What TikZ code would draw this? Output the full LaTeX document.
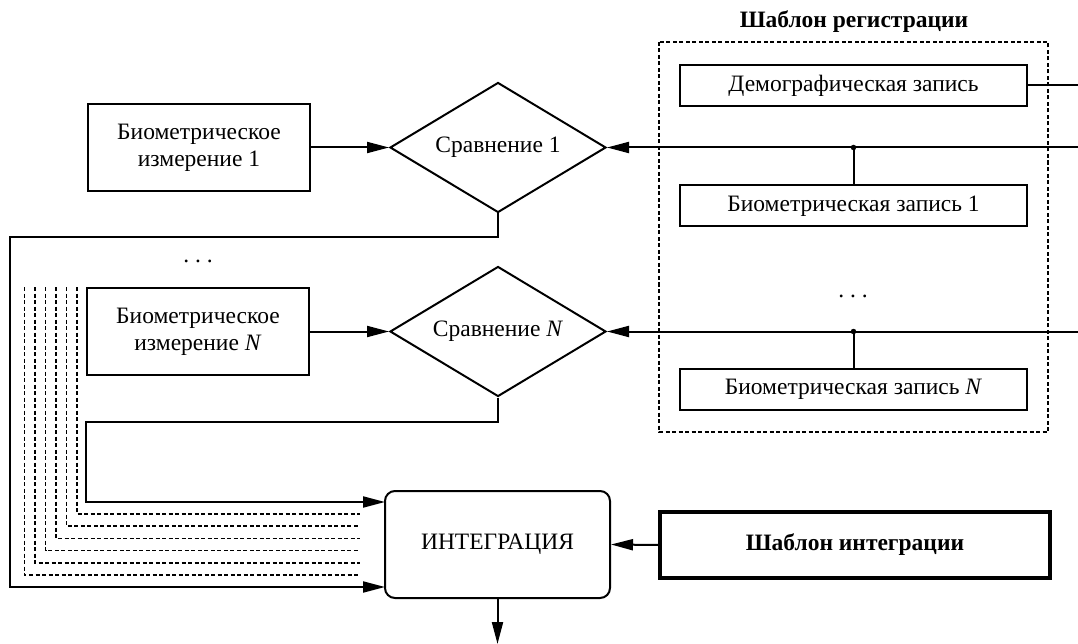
\documentclass[tikz,border=0pt]{standalone}
\usepackage{fontspec}
\setmainfont{Liberation Serif}
\usetikzlibrary{shapes.geometric,arrows.meta,calc}

\tikzset{
  blk/.style={draw, line width=2pt, align=center, inner sep=0pt},
  cmp/.style={draw, shape=diamond, line width=2pt, inner sep=0pt, aspect=1.66,
              minimum width=216pt, minimum height=130pt},
  rec/.style={blk, minimum width=347pt, minimum height=41pt},
  meas/.style={blk, minimum width=222pt, minimum height=87pt},
  link/.style={-{Triangle[length=22pt,width=11pt]}},
  tap/.style={dash pattern=on 4pt off 2.5pt, line width=1.6pt},
  jdot/.style={circle, fill, inner sep=0pt, minimum size=5.5pt},
}

\begin{document}
\begin{tikzpicture}[x=1pt, y=-1pt, line width=2pt, font=\fontsize{23.5}{27}\selectfont]
\useasboundingbox (0,0) rectangle (1078,644);

% enrolment template
\draw[tap] (659,42) rectangle (1048,432);
\node[font=\fontsize{23.5}{27}\selectfont\bfseries] (ttl) at (854,22) {Шаблон регистрации};
\node[rec] (dem) at (853.5,85.5) {Демографическая запись};
\node[rec] (b1) at (853.5,206) {Биометрическая запись 1};
\node (rdots) at (853,296) {.\ .\ .};
\node[rec] (bN) at (853.5,389) {Биометрическая запись \textit{N}};

% measurements and comparisons
\node[meas] (m1) at (199,147.5) {Биометрическое\\измерение 1};
\node (ldots) at (198,261) {.\ .\ .};
\node[meas] (mN) at (198,331.5) {Биометрическое\\измерение \textit{N}};
\node[cmp] (d1) at (498,147.5) {Сравнение 1};
\node[cmp] (dN) at (498,331.5) {Сравнение \textit{N}};

% integration
\node[blk, rounded corners=10pt, minimum width=225pt, minimum height=107pt] (int) at (497.5,544.5) {ИНТЕГРАЦИЯ};
\node[blk, line width=3.2pt, minimum width=390pt, minimum height=66pt, font=\fontsize{23.5}{27}\selectfont\bfseries] (ti) at (855,545) {Шаблон интеграции};

% right-hand feeds
\coordinate (e0) at (1078,85.5);
\coordinate (e1) at (1078,147.5);
\coordinate (eN) at (1078,331.5);
\coordinate (j1) at (853.5,147.5);
\coordinate (jN) at (853.5,331.5);
\draw (dem.east) -- (e0);
\draw[link] (e1) -- (d1.east);
\draw[link] (eN) -- (dN.east);
\draw (j1) -- (b1.north);
\draw (jN) -- (bN.north);
\node[jdot] at (j1) {};
\node[jdot] at (jN) {};

% measurement inputs
\draw[link] (m1.east) -- (d1.west);
\draw[link] (mN.east) -- (dN.west);

% comparison results routed to integration
\coordinate (c1a) at (498,237);
\coordinate (c1b) at (10,237);
\coordinate (c1c) at (10,587);
\coordinate (c1d) at (385,587);
\draw[link] (d1.south) -- (c1a) -- (c1b) -- (c1c) -- (c1d);
\coordinate (cNa) at (498,422);
\coordinate (cNb) at (86,422);
\coordinate (cNc) at (86,502);
\coordinate (cNd) at (385,502);
\draw[link] (dN.south) -- (cNa) -- (cNb) -- (cNc) -- (cNd);

% further comparison channels
\foreach \i in {0,...,5} {
  \coordinate (v\i) at ({77-10.5*\i},287);
  \coordinate (k\i) at ({77-10.5*\i},{514+12.2*\i});
  \coordinate (h\i) at (360,{514+12.2*\i});
  \draw[tap] (v\i) -- (k\i) -- (h\i);
}

% template input and output
\draw[link] (ti.west) -- (int.east);
\coordinate (out) at (497.5,644);
\draw[link] (int.south) -- (out);
\end{tikzpicture}
\end{document}
